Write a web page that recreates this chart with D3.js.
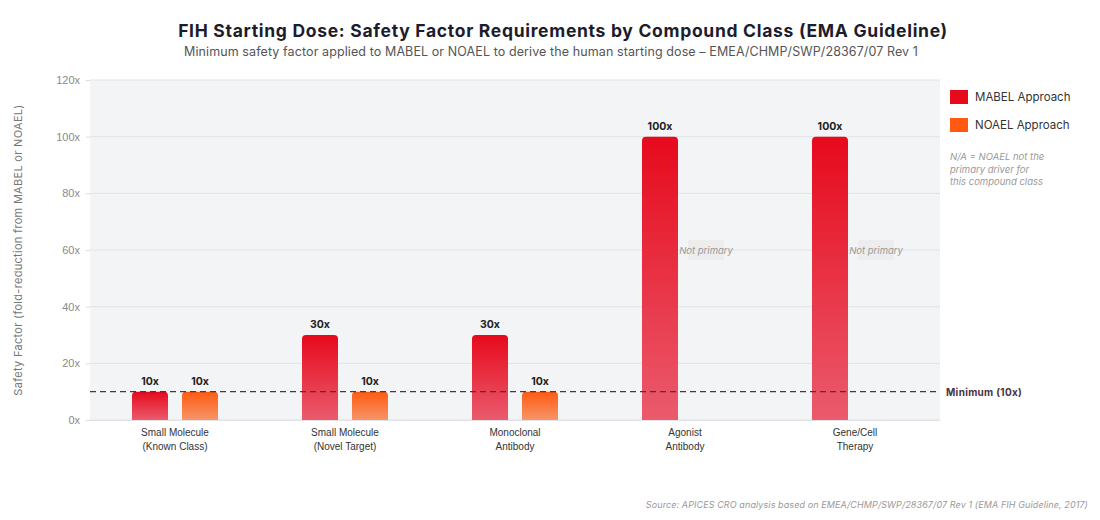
<!DOCTYPE html>
<html><head><meta charset="utf-8">
<script src="https://cdn.jsdelivr.net/npm/d3@7"></script>
<style>body{margin:0;background:#fff;}svg{display:block;font-family:Inter,"Open Sans",sans-serif;}</style>
</head><body><svg id="c" width="1100" height="520"></svg>
<script>
const categories = [["Small Molecule","(Known Class)"],["Small Molecule","(Novel Target)"],["Monoclonal","Antibody"],["Agonist","Antibody"],["Gene/Cell","Therapy"]];
const mabel = [10, 30, 30, 100, 100];
const noael = [10, 10, 10, null, null];
const yTicks = [0, 20, 40, 60, 80, 100, 120];
const minimum = 10;
const seriesNames = ["MABEL Approach", "NOAEL Approach"];

const svg = d3.select("#c");
const m = {l: 90, r: 160, t: 80, b: 100};
const x = d3.scaleBand().domain(d3.range(categories.length)).range([m.l, 940]);
const y = d3.scaleLinear().domain([0, 120]).range([420, 80]);
const bw = 36, off = 25;

const defs = svg.append("defs");
function grad(id, c1, c2){
  const g = defs.append("linearGradient").attr("id", id).attr("x1",0).attr("y1",0).attr("x2",0).attr("y2",1);
  g.append("stop").attr("offset","0%").attr("stop-color",c1);
  g.append("stop").attr("offset","100%").attr("stop-color",c2);
}
grad("gM", "#e60a1c", "#ea5b6d");
grad("gN", "#ff5a10", "#f7956a");

svg.append("rect").attr("x", m.l).attr("y", y(120)).attr("width", 940 - m.l).attr("height", y(0) - y(120)).attr("fill", "#f3f4f6");

svg.append("g").selectAll("line").data(yTicks).join("line")
  .attr("x1", m.l).attr("x2", 940).attr("y1", d => y(d)).attr("y2", d => y(d))
  .attr("stroke", "#e2e3e6").attr("stroke-width", 1);

const ya = svg.append("g").attr("transform", `translate(${m.l},0)`)
  .call(d3.axisLeft(y).tickValues(yTicks).tickFormat(d => d + "x").tickSize(4).tickPadding(6));
ya.select(".domain").remove();
ya.selectAll("line").attr("stroke", "#dcdcdc");
ya.selectAll("text").attr("fill", "#8a8a8a").attr("font-size", 11);

const xa = svg.append("g").attr("transform", `translate(0,${y(0)})`)
  .call(d3.axisBottom(x).tickSize(0).tickFormat(""));
xa.select(".domain").attr("stroke", "#e2e3e6");
xa.selectAll(".tick").each(function(d){
  const t = d3.select(this).append("text").attr("fill", "#333").attr("font-size", 10).attr("text-anchor","middle");
  t.append("tspan").attr("x", 0).attr("y", 16).text(categories[d][0]);
  t.append("tspan").attr("x", 0).attr("y", 30).text(categories[d][1]);
});

function roundTop(x0, y0, w, h, r){
  r = Math.min(r, h);
  return `M${x0},${y0+h}V${y0+r}Q${x0},${y0} ${x0+r},${y0}H${x0+w-r}Q${x0+w},${y0} ${x0+w},${y0+r}V${y0+h}Z`;
}

const bars = svg.append("g");
mabel.forEach((v, i) => {
  const cx = x(i) + x.bandwidth()/2 - off;
  bars.append("path").attr("d", roundTop(cx - bw/2, y(v), bw, y(0) - y(v), 4)).attr("fill", "url(#gM)");
  bars.append("text").attr("x", cx).attr("y", y(v) - 7).attr("text-anchor","middle")
    .attr("font-size", 10.5).attr("font-weight", 700).attr("fill", "#222").text(v + "x");
});
noael.forEach((v, i) => {
  const cx = x(i) + x.bandwidth()/2 + off;
  if (v == null) {
    bars.append("rect").attr("x", cx - 22).attr("y", y(60) - 10).attr("width", 36).attr("height", 20).attr("fill", "#ebebeb").attr("opacity", 0.8);
    bars.append("text").attr("x", cx - 4).attr("y", y(60) + 3.5).attr("text-anchor","middle")
      .attr("font-size", 9.5).attr("font-style","italic").attr("fill", "#999").text("Not primary");
    return;
  }
  bars.append("path").attr("d", roundTop(cx - bw/2, y(v), bw, y(0) - y(v), 4)).attr("fill", "url(#gN)");
  bars.append("text").attr("x", cx).attr("y", y(v) - 7).attr("text-anchor","middle")
    .attr("font-size", 10.5).attr("font-weight", 700).attr("fill", "#222").text(v + "x");
});

svg.append("line").attr("x1", m.l).attr("x2", 940).attr("y1", y(minimum)).attr("y2", y(minimum))
  .attr("stroke", "#4a3342").attr("stroke-width", 1.3).attr("stroke-dasharray", "6,4");
svg.append("text").attr("x", 946).attr("y", y(minimum) + 4).attr("font-size", 10).attr("font-weight", 700)
  .attr("letter-spacing", 0.3).attr("fill", "#4a3342").text("Minimum (10x)");

svg.append("text").attr("x", 563).attr("y", 37).attr("text-anchor","middle").attr("font-size", 17.5)
  .attr("letter-spacing", 0.7)
  .attr("font-weight", 700).attr("fill", "#1c1c2c").text("FIH Starting Dose: Safety Factor Requirements by Compound Class (EMA Guideline)");
svg.append("text").attr("x", 551).attr("y", 56).attr("text-anchor","middle").attr("font-size", 12.5)
  .attr("letter-spacing", 0.1)
  .attr("fill", "#555").text("Minimum safety factor applied to MABEL or NOAEL to derive the human starting dose – EMEA/CHMP/SWP/28367/07 Rev 1");

svg.append("text").attr("transform", "translate(22,250) rotate(-90)").attr("text-anchor","middle")
  .attr("font-size", 11).attr("letter-spacing", 0.3).attr("fill", "#777").text("Safety Factor (fold-reduction from MABEL or NOAEL)");

const lg = svg.append("g");
[["#e60a1c", seriesNames[0], 90], ["#ff5a10", seriesNames[1], 118]].forEach(([c, t, yy]) => {
  lg.append("rect").attr("x", 950).attr("y", yy).attr("width", 18).attr("height", 14).attr("fill", c);
  lg.append("text").attr("x", 975).attr("y", yy + 11).attr("font-size", 11.5).attr("fill", "#333").text(t);
});
["N/A = NOAEL not the", "primary driver for", "this compound class"].forEach((t, i) => {
  lg.append("text").attr("x", 950).attr("y", 160 + i * 12.5).attr("font-size", 9.5).attr("font-style","italic")
    .attr("fill", "#999").text(t);
});

svg.append("text").attr("x", 1088).attr("y", 508).attr("text-anchor","end").attr("font-size", 9)
  .attr("letter-spacing", 0.1).attr("font-style","italic").attr("fill", "#999")
  .text("Source: APICES CRO analysis based on EMEA/CHMP/SWP/28367/07 Rev 1 (EMA FIH Guideline, 2017)");
</script></body></html>
